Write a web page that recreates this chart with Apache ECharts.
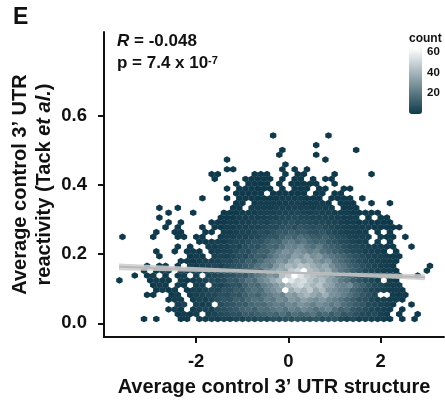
<!DOCTYPE html>
<html><head><meta charset="utf-8">
<style>html,body{margin:0;padding:0;background:#fff}#c{width:445px;height:400px}</style>
<script src="https://cdn.jsdelivr.net/npm/echarts@6/dist/echarts.min.js"></script>
</head><body><div id="c"></div>
<script>
// Hexbin counts. Each row runs along one hex row (bottom to top);
// rowStart gives the hex column of the first entry; 0 = no hexagon.
const rowStart = [0,5,4,5,4,0,2,1,-4,-2,0,0,6,2,2,5,9,-4,2,3,4,2,4,2,15,9,15,13,15,11,11,13,23,13,22,22,28,0,21];
const row00 = [1,0,1,0,0,0,1,1,0,2,2,3,2,4,3,5,4,6,5,7,6,8,7,9,8,10,9,8,10,7,8,9,6,4,6,3,4,3,2,2,1,0,1,0,1];
const row01 = [1,2,1,2,0,3,4,6,7,9,8,12,11,13,14,16,14,18,13,18,15,17,20,14,16,12,15,10,12,8,6,5,6,3,2,0,1,0,0,1];
const row02 = [1,3,1,0,2,3,4,3,7,8,10,11,14,15,13,18,17,20,22,19,24,21,26,23,19,22,25,18,14,16,11,9,7,5,4,3,2,0,1];
const row03 = [2,4,0,3,2,3,0,7,9,10,12,11,15,17,16,20,23,21,26,24,30,27,23,28,25,21,24,18,15,12,10,6,5,4,3,1,0,0,1];
const row04 = [1,2,2,0,2,4,3,5,8,10,9,13,12,16,19,17,23,21,27,24,31,28,34,30,27,31,26,23,20,16,13,9,8,5,3,3,2,2,1];
const row05 = [1,1,0,0,1,2,0,2,3,4,5,5,8,7,10,9,13,16,14,19,22,26,24,33,30,37,41,36,32,38,29,27,23,19,14,11,8,5,0,0,2,1,1];
const row06 = [1,2,1,2,0,1,3,2,4,6,5,9,8,12,11,16,19,17,24,28,33,66,38,44,40,47,36,42,31,28,24,22,15,12,8,5,4,3,2,2,1];
const row07 = [1,2,1,0,2,1,0,2,3,0,5,4,7,9,8,13,17,15,22,26,31,36,43,48,52,46,41,45,36,33,26,24,27,17,13,9,6,5,3,2,2];
const row08 = [1,0,0,0,0,1,2,1,1,0,2,1,2,3,4,6,5,7,11,10,14,19,17,25,29,36,42,66,56,50,53,45,39,43,34,29,22,18,13,10,7,5,3,0,2,1];
const row09 = [1,0,1,2,0,1,0,1,2,0,3,0,4,5,6,8,9,12,11,16,21,25,31,28,44,49,66,55,48,44,40,37,32,25,20,16,12,9,7,5,3,3,2,1,0,0,1];
const row10 = [1,0,1,2,1,0,2,3,3,2,4,4,6,7,6,10,13,15,20,18,27,32,38,35,47,52,66,44,40,35,38,27,21,18,13,10,6,5,4,2,2,1,0,0,0,0,1];
const row11 = [1,0,1,1,0,1,0,2,2,3,4,5,4,6,8,9,12,14,19,23,21,30,35,41,38,45,43,38,33,36,28,22,19,14,11,8,6,4,3,2,1,0,0,0,0,0,1];
const row12 = [1,2,1,2,3,3,4,6,5,8,9,13,11,16,21,24,30,27,35,40,33,37,30,26,29,20,17,13,10,7,5,4,3,2,2,1];
const row13 = [1,0,0,0,0,1,2,1,0,3,4,3,5,7,6,10,13,12,18,23,27,25,33,30,36,28,31,24,20,17,14,11,8,6,4,3,3,2,1,1];
const row14 = [1,0,0,1,0,1,2,1,0,2,3,4,4,6,8,7,11,14,13,19,24,29,26,31,27,23,26,19,16,13,11,8,6,5,3,3,2,1,0,1];
const row15 = [1,0,1,0,0,2,2,3,3,5,4,7,9,8,12,15,14,19,25,23,27,21,18,22,15,13,11,8,6,5,4,3,2,2,1,1,0,0,1];
const row16 = [1,1,2,3,2,4,5,5,7,9,8,12,15,14,20,22,18,21,16,14,15,11,9,7,6,4,3,2,0,2,0,1];
const row17 = [1,0,0,0,0,1,0,0,0,1,1,0,1,1,0,0,2,3,3,4,4,5,6,8,10,9,13,16,14,18,15,12,11,13,9,7,6,4,3,3,2,0,2,1,1,0,1];
const row18 = [1,0,0,1,1,0,0,0,1,1,0,2,2,3,4,4,5,7,6,8,11,10,13,11,12,9,8,10,7,5,4,3,3,2,2,0,1,0,1];
const row19 = [1,0,1,0,0,0,1,0,1,1,2,2,3,3,4,4,5,6,6,8,9,7,10,8,7,8,6,5,4,3,3,2,2,2,1,1,1,1,1];
const row20 = [1,0,1,0,0,0,0,1,1,1,2,2,3,3,4,5,4,6,6,7,8,6,7,6,5,5,4,4,3,2,2,1,2,1,1,1,1];
const row21 = [1,0,0,0,0,0,0,0,0,0,1,1,1,2,2,3,3,3,4,4,5,5,6,5,5,4,4,4,3,3,2,2,2,0,1,0,1,1];
const row22 = [1,0,0,0,1,0,0,0,0,1,1,1,2,2,2,3,3,3,4,4,4,5,4,3,4,3,3,2,2,2,1,1,1,1,1];
const row23 = [1,0,0,1,0,0,0,0,0,0,0,0,1,1,0,2,2,2,2,3,3,3,3,3,3,2,3,2,2,0,1,1,1];
const row24 = [1,1,0,1,2,2,2,2,2,3,3,2,2,2,2,1,0,1,1,1,0,0,1,0,0,1];
const row25 = [1,0,0,0,1,0,1,1,1,1,1,1,1,2,2,2,2,1,1,1,0,1,1,1,1,0,1];
const row26 = [1,1,1,1,1,0,1,1,1,1,1,1,0,1,1,0,1,1];
const row27 = [1,0,1,1,1,1,1,1,0,1,0,1,1,1,0,1,1,0,0,1,1];
const row28 = [1,0,1,1,1,1,0,1,0,1,1,1,1,1,0,0,1];
const row29 = [1,0,0,0,0,1,1,1,1,1,0,1,0,1,1,0,1,0,1,1];
const row30 = [1,1,0,0,0,0,0,1,1,1,0,0,1,0,1,1,0,0,0,0,1,0,0,0,0,0,1];
const row31 = [1,1,0,0,0,0,0,0,0,1,0,1,0,1];
const row32 = [1];
const row33 = [1,0,0,0,0,0,0,0,0,0,0,0,0,0,0,0,1];
const row34 = [1,0,0,0,0,0,1];
const row35 = [1,0,0,0,0,0,0,0,0,0,0,0,1];
const row36 = [1];
const row37 = [];
const row38 = [1,0,0,0,0,0,0,0,0,1];
const hexRows = [row00,row01,row02,row03,row04,row05,row06,row07,row08,row09,row10,row11,row12,row13,row14,row15,row16,row17,row18,row19,row20,row21,row22,row23,row24,row25,row26,row27,row28,row29,row30,row31,row32,row33,row34,row35,row36,row37,row38];

// hexagon grid, in data units
const hexX0 = -3.129, hexDX = 0.13326, hexY0 = 0.0124, hexDY = 0.01396;

const xTicks = [-2, 0, 2];
const yTicks = [0, 0.2, 0.4, 0.6];
const legendTicks = [60, 40, 20];

// regression line and its narrow confidence band
const fitX = [-3.67, 0.3, 2.96];
const fitY = [0.1632, 0.1452, 0.133];
const fitLower = [0.1532, 0.1424, 0.1245];
const fitUpper = [0.1732, 0.148, 0.1415];

const hexData = [];
hexRows.forEach((row, k) => {
  row.forEach((count, i) => {
    if (count > 0) {
      const n = rowStart[k] + i + (k % 2 ? 0.5 : 0);
      hexData.push([hexX0 + n * hexDX, hexY0 + k * hexDY, count]);
    }
  });
});

const FONT = '"Liberation Sans", Arial, sans-serif';
const chart = echarts.init(document.getElementById('c'), null, {renderer: 'canvas'});
const axisLine = {show: true, onZero: false, lineStyle: {color: '#111', width: 2}};
const axisTick = {show: true, length: 6, lineStyle: {color: '#111', width: 2}};

chart.setOption({
  animation: false,
  backgroundColor: '#fff',
  grid: {left: 104, right: 1, top: 32, bottom: 63, containLabel: false, outerBoundsMode: 'none'},
  xAxis: {
    type: 'value', min: -3.996, max: 3.372, splitLine: {show: false},
    axisLine, axisTick: {...axisTick, customValues: xTicks},
    axisLabel: {customValues: xTicks, color: '#111', fontFamily: FONT, fontWeight: 'bold', fontSize: 18.5, margin: 15},
    name: 'Average control 3’ UTR structure', nameLocation: 'middle', nameGap: 40, nameMoveOverlap: false,
    nameTextStyle: {color: '#111', fontFamily: FONT, fontWeight: 'bold', fontSize: 20}
  },
  yAxis: {
    type: 'value', min: -0.0396, max: 0.842, splitLine: {show: false},
    axisLine, axisTick: {...axisTick, customValues: yTicks},
    axisLabel: {customValues: yTicks, color: '#111', fontFamily: FONT, fontWeight: 'bold', fontSize: 18.5, margin: 17,
      formatter: v => v.toFixed(1)},
    name: '{b|Average control 3’ UTR}\n{b|reactivity (Tack }{i|et al.}{b|)}', nameLocation: 'middle', nameGap: 48, nameRotate: 90, nameMoveOverlap: false,
    nameTextStyle: {
      color: '#111', fontFamily: FONT, fontWeight: 'bold', fontSize: 20, lineHeight: 24,
      rich: {
        b: {fontFamily: FONT, fontWeight: 'bold', fontSize: 20, color: '#111', lineHeight: 24},
        i: {fontFamily: FONT, fontWeight: 'bold', fontStyle: 'italic', fontSize: 20, color: '#111', lineHeight: 24}
      }
    }
  },
  visualMap: {
    type: 'continuous', seriesIndex: 0, dimension: 2, min: 1, max: 64,
    left: 409, top: 48, padding: 0, itemWidth: 13, itemHeight: 66, text: null,
    calculable: false, realtime: false, hoverLink: false,
    showLabel: false,
    inRange: {color: ['#103a4b', '#ffffff']}
  },
  series: [
    {
      type: 'custom', data: hexData, encode: {x: 0, y: 1}, silent: true, clip: false,
      renderItem(params, api) {
        const c = api.coord([api.value(0), api.value(1)]);
        const hw = api.size([hexDX, 0])[0] / 2 + 0.15;
        const r = api.size([0, hexDY])[1] * 2 / 3 + 0.1;
        const fill = api.visual('color');
        return {
          type: 'polygon',
          shape: {points: [[c[0], c[1] - r], [c[0] + hw, c[1] - r / 2], [c[0] + hw, c[1] + r / 2],
                           [c[0], c[1] + r], [c[0] - hw, c[1] + r / 2], [c[0] - hw, c[1] - r / 2]]},
          style: {fill}
        };
      }
    },
    {
      type: 'custom', data: [[0, 0]], silent: true, z: 3, encode: {x: 0, y: 1},
      renderItem(params, api) {
        const top = fitX.map((x, i) => api.coord([x, fitUpper[i]]));
        const bottom = fitX.map((x, i) => api.coord([x, fitLower[i]])).reverse();
        return {type: 'polygon', shape: {points: top.concat(bottom)}, style: {fill: 'rgba(205,205,205,0.85)'}};
      }
    },
    {
      type: 'line', data: fitX.map((x, i) => [x, fitY[i]]), symbol: 'none', silent: true, z: 4,
      lineStyle: {color: '#b9b9b9', width: 2}
    }
  ],
  graphic: [
    {type: 'text', left: 13, top: 6, style: {text: 'E', font: 'bold 23px ' + FONT, fill: '#111'}},
    {type: 'text', left: 117, top: 33, style: {
      text: '{i|R}{b| = -0.048}', fill: '#111',
      rich: {i: {font: 'italic bold 17px ' + FONT, fill: '#111'}, b: {font: 'bold 17px ' + FONT, fill: '#111'}}
    }},
    {type: 'text', left: 117, top: 55, style: {text: 'p = 7.4 x 10', font: 'bold 17px ' + FONT, fill: '#111'}},
    {type: 'text', left: 208, top: 55, style: {text: '-7', font: 'bold 11px ' + FONT, fill: '#111'}},
    {type: 'text', left: 409, top: 33, style: {text: 'count', font: 'bold 12px ' + FONT, fill: '#111'}},
    ...legendTicks.map(v => ({
      type: 'text', left: 427, top: 52 + (60 - v) * 1.025 - 6,
      style: {text: String(v), font: 'bold 11.5px ' + FONT, fill: '#111'}
    }))
  ]
});
</script></body></html>
